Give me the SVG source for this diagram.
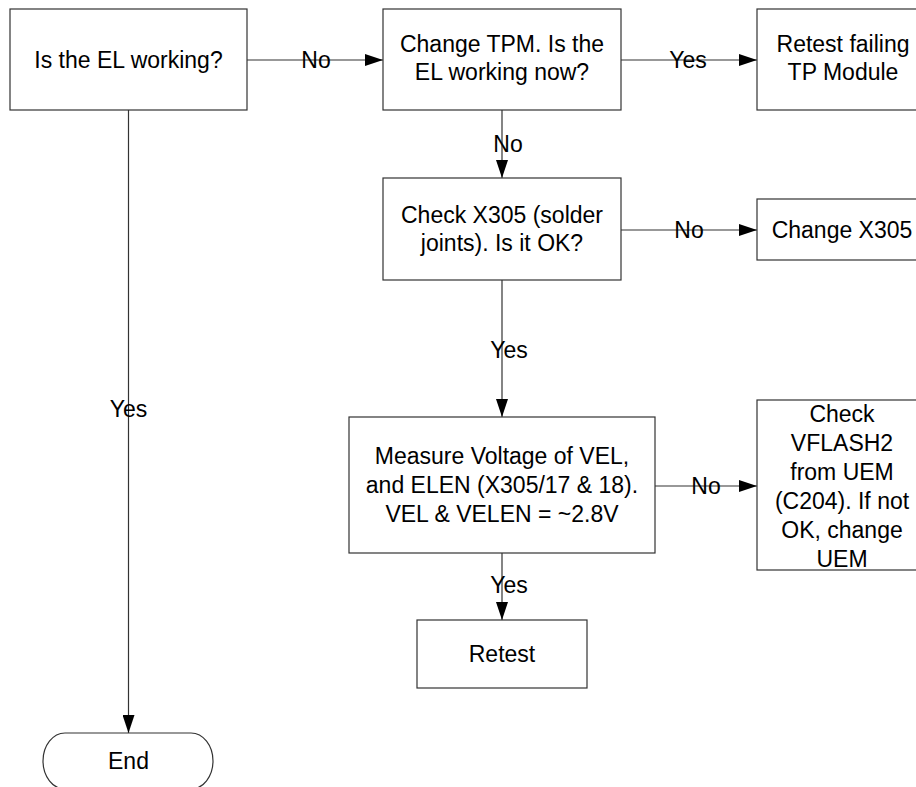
<svg xmlns="http://www.w3.org/2000/svg" width="916" height="787" viewBox="0 0 916 787">
<defs>
<style>
.box{fill:#fff;stroke:#333;stroke-width:1.2}
.t{font-family:"Liberation Sans",Arial,sans-serif;font-size:23px;fill:#000;text-anchor:middle}
.c{fill:none;stroke:#333;stroke-width:1.2}
</style>
<marker id="ah" markerUnits="userSpaceOnUse" markerWidth="18" markerHeight="12" refX="18" refY="6" orient="auto">
<path d="M0,0 L18,6 L0,12 z" fill="#000"/>
</marker>
</defs>
<rect width="916" height="787" fill="#fff"/>
<g id="connectors">
<path class="c" d="M247,60 H383" marker-end="url(#ah)"/>
<text class="t" x="316" y="68">No</text>
<path class="c" d="M621,60 H757" marker-end="url(#ah)"/>
<text class="t" x="688" y="68">Yes</text>
<path class="c" d="M502,110 V178" marker-end="url(#ah)"/>
<text class="t" x="508" y="152">No</text>
<path class="c" d="M621,230 H757" marker-end="url(#ah)"/>
<text class="t" x="689" y="238">No</text>
<path class="c" d="M502,280 V417" marker-end="url(#ah)"/>
<text class="t" x="509" y="358">Yes</text>
<path class="c" d="M655,486 H757" marker-end="url(#ah)"/>
<text class="t" x="706" y="494">No</text>
<path class="c" d="M502,553 V620" marker-end="url(#ah)"/>
<text class="t" x="509" y="593">Yes</text>
<path class="c" d="M128.5,110 V733" marker-end="url(#ah)"/>
<text class="t" x="128.5" y="417">Yes</text>
</g>
<g id="n1">
<rect class="box" x="10" y="9" width="237" height="101"/>
<text class="t" x="128.5" y="68">Is the EL working?</text>
</g>
<g id="n2">
<rect class="box" x="383" y="9" width="238" height="101"/>
<text class="t" x="502" y="52">Change TPM. Is the</text>
<text class="t" x="502" y="80">EL working now?</text>
</g>
<g id="n3">
<rect class="box" x="757" y="9" width="172" height="101"/>
<text class="t" x="843" y="52">Retest failing</text>
<text class="t" x="843" y="80">TP Module</text>
</g>
<g id="n4">
<rect class="box" x="383" y="178" width="238" height="102"/>
<text class="t" x="502" y="222.5">Check X305 (solder</text>
<text class="t" x="502" y="251">joints). Is it OK?</text>
</g>
<g id="n5">
<rect class="box" x="757" y="199" width="172" height="61"/>
<text class="t" x="842" y="238">Change X305</text>
</g>
<g id="n6">
<rect class="box" x="349" y="417" width="306" height="136"/>
<text class="t" x="502" y="464">Measure Voltage of VEL,</text>
<text class="t" x="502" y="493">and ELEN (X305/17 &amp; 18).</text>
<text class="t" x="502" y="522">VEL &amp; VELEN = ~2.8V</text>
</g>
<g id="n7">
<rect class="box" x="757" y="400" width="172" height="170"/>
<text class="t" x="842" y="421.5">Check</text>
<text class="t" x="842" y="450.5">VFLASH2</text>
<text class="t" x="842" y="479.5">from UEM</text>
<text class="t" x="842" y="508.5">(C204). If not</text>
<text class="t" x="842" y="537.5">OK, change</text>
<text class="t" x="842" y="566.5">UEM</text>
</g>
<g id="n8">
<rect class="box" x="417" y="620" width="170" height="68"/>
<text class="t" x="502" y="662">Retest</text>
</g>
<g id="n9">
<rect class="box" x="43" y="733" width="170" height="56" rx="22" ry="28"/>
<text class="t" x="128.5" y="769">End</text>
</g>
</svg>
